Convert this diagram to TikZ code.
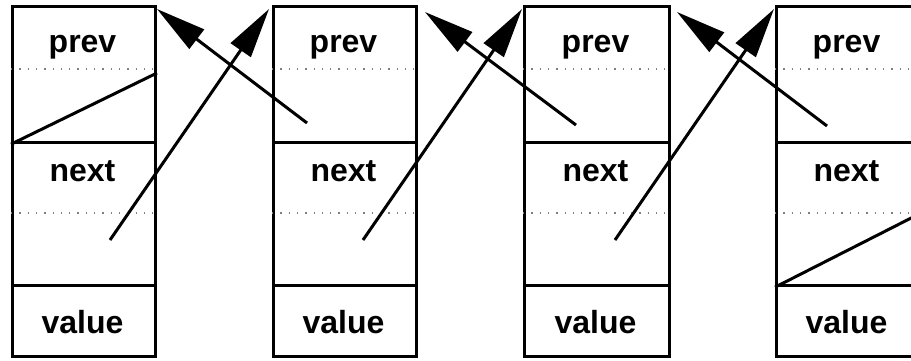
\documentclass[tikz,border=0pt]{standalone}
\usepackage{fontspec}
\setmainfont{Liberation Sans}
\usetikzlibrary{arrows.meta}
\tikzset{
  cell/.style={draw, line width=3.2pt, rectangle, inner sep=0pt, anchor=north west},
  lbl/.style={font=\fontsize{32}{38}\selectfont\bfseries, anchor=base, inner sep=0pt},
  dotline/.style={draw=gray, line width=1.3pt, dash pattern=on 1.3pt off 7pt},
  ptr/.style={line width=3pt, -{Triangle[length=50pt,width=24pt]}},
  nullptr/.style={line width=3pt}
}
\begin{document}
\begin{tikzpicture}[x=1pt,y=-1pt]
\useasboundingbox (0,0) rectangle (911,360);
\clip (0,0) rectangle (911,360);
% boxes
\foreach \i/\L/\W in {1/11/143, 2/272/143, 3/523/145, 4/775/143}{
  \node[cell, minimum width=\W pt, minimum height=136pt] (p\i) at (\L,5) {};
  \node[cell, minimum width=\W pt, minimum height=143pt] (n\i) at (\L,141) {};
  \node[cell, minimum width=\W pt, minimum height=71pt] (v\i) at (\L,284) {};
  \draw[dotline] (\L,69) -- (\L+\W,69);
  \draw[dotline] (\L,213) -- (\L+\W,213);
  \node[lbl] (tp\i) at (\L+\W/2,52) {prev};
  \node[lbl] (tn\i) at (\L+\W/2,181) {next};
  \node[lbl] (tv\i) at (\L+\W/2,333) {value};
}
% pointer end points
\coordinate (ps2) at (307,123);
\coordinate (ps3) at (576,125);
\coordinate (ps4) at (827,126);
\coordinate (pt1) at (157,9);
\coordinate (pt2) at (425,12);
\coordinate (pt3) at (677,12);
\coordinate (ns1) at (110,240);
\coordinate (ns2) at (363,240);
\coordinate (ns3) at (615,240);
\coordinate (nt2) at (269,9);
\coordinate (nt3) at (522,9);
\coordinate (nt4) at (774,9);
\coordinate (z1) at (157,73);
\coordinate (z4) at (921,213);
% prev pointers
\draw[ptr] (ps2) -- (pt1);
\draw[ptr] (ps3) -- (pt2);
\draw[ptr] (ps4) -- (pt3);
% next pointers
\draw[ptr] (ns1) -- (nt2);
\draw[ptr] (ns2) -- (nt3);
\draw[ptr] (ns3) -- (nt4);
% null pointers
\draw[nullptr] (p1.south west) -- (z1);
\draw[nullptr] (n4.south west) -- (z4);
\end{tikzpicture}
\end{document}
